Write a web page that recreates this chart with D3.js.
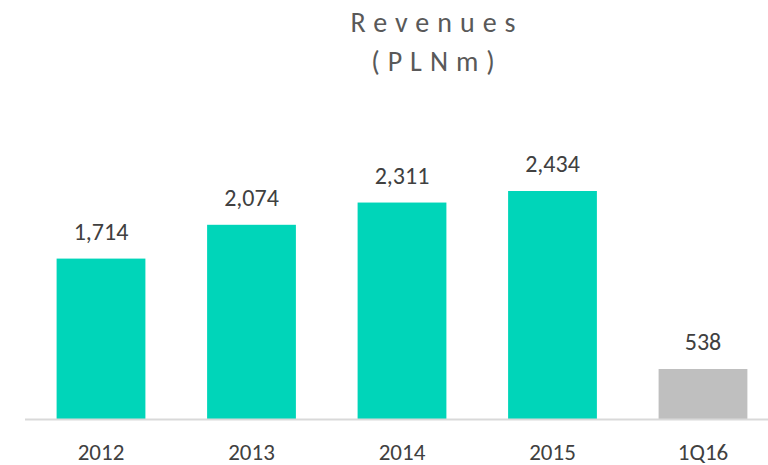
<!DOCTYPE html>
<html>
<head>
<meta charset="utf-8">
<script src="https://cdn.jsdelivr.net/npm/d3@7"></script>
<style>
  body { margin: 0; background: #fff; }
  svg { display: block; font-family: Carlito, Lato, "Open Sans", sans-serif; }
</style>
</head>
<body>
<svg></svg>
<script>
var width = 768;
var height = 465;

// chart data
var categories = ["2012", "2013", "2014", "2015", "1Q16"];
var revenues = [1714, 2074, 2311, 2434, 538];
var isPartial = [false, false, false, false, true];

var svg = d3.select("svg")
    .attr("width", width)
    .attr("height", height);

var baseline = 419.5;

// band scale - right side of plot runs past the picture edge
var x = d3.scaleBand()
    .domain(categories)
    .range([25, 779])
    .paddingInner(0.41)
    .paddingOuter(0.21);

var y = d3.scaleLinear()
    .domain([0, 2434])
    .range([baseline, 191]);

var fmt = d3.format(",");

// title
var title = svg.append("text")
    .attr("text-anchor", "middle")
    .style("font-size", "28px")
    .style("fill", "#595959")
    .style("letter-spacing", "8px");
title.append("tspan").attr("x", 437).attr("y", 32).text("Revenues");
title.append("tspan").attr("x", 437).attr("y", 71).text("(PLNm)");

// bars
svg.append("g")
    .selectAll("rect")
    .data(revenues)
    .enter().append("rect")
    .attr("x", function(d, i) { return x(categories[i]); })
    .attr("width", x.bandwidth())
    .attr("y", function(d) { return y(d); })
    .attr("height", function(d) { return baseline - y(d); })
    .attr("fill", function(d, i) { return isPartial[i] ? "#bfbfbf" : "#00d5b9"; });

// axis line
svg.append("line")
    .attr("x1", 25)
    .attr("x2", width)
    .attr("y1", baseline)
    .attr("y2", baseline)
    .style("stroke", "#d9d9d9")
    .style("stroke-width", 2);

// value labels
svg.append("g")
    .selectAll("text")
    .data(revenues)
    .enter().append("text")
    .attr("x", function(d, i) { return x(categories[i]) + x.bandwidth() / 2; })
    .attr("y", function(d) { return y(d) - 19; })
    .attr("text-anchor", "middle")
    .style("font-size", "24px")
    .style("fill", "#404040")
    .text(function(d) { return fmt(d); });

// category labels
svg.append("g")
    .selectAll("text")
    .data(categories)
    .enter().append("text")
    .attr("x", function(d) { return x(d) + x.bandwidth() / 2; })
    .attr("y", 460)
    .attr("text-anchor", "middle")
    .style("font-size", "23px")
    .style("fill", "#404040")
    .text(function(d) { return d; });
</script>
</body>
</html>
